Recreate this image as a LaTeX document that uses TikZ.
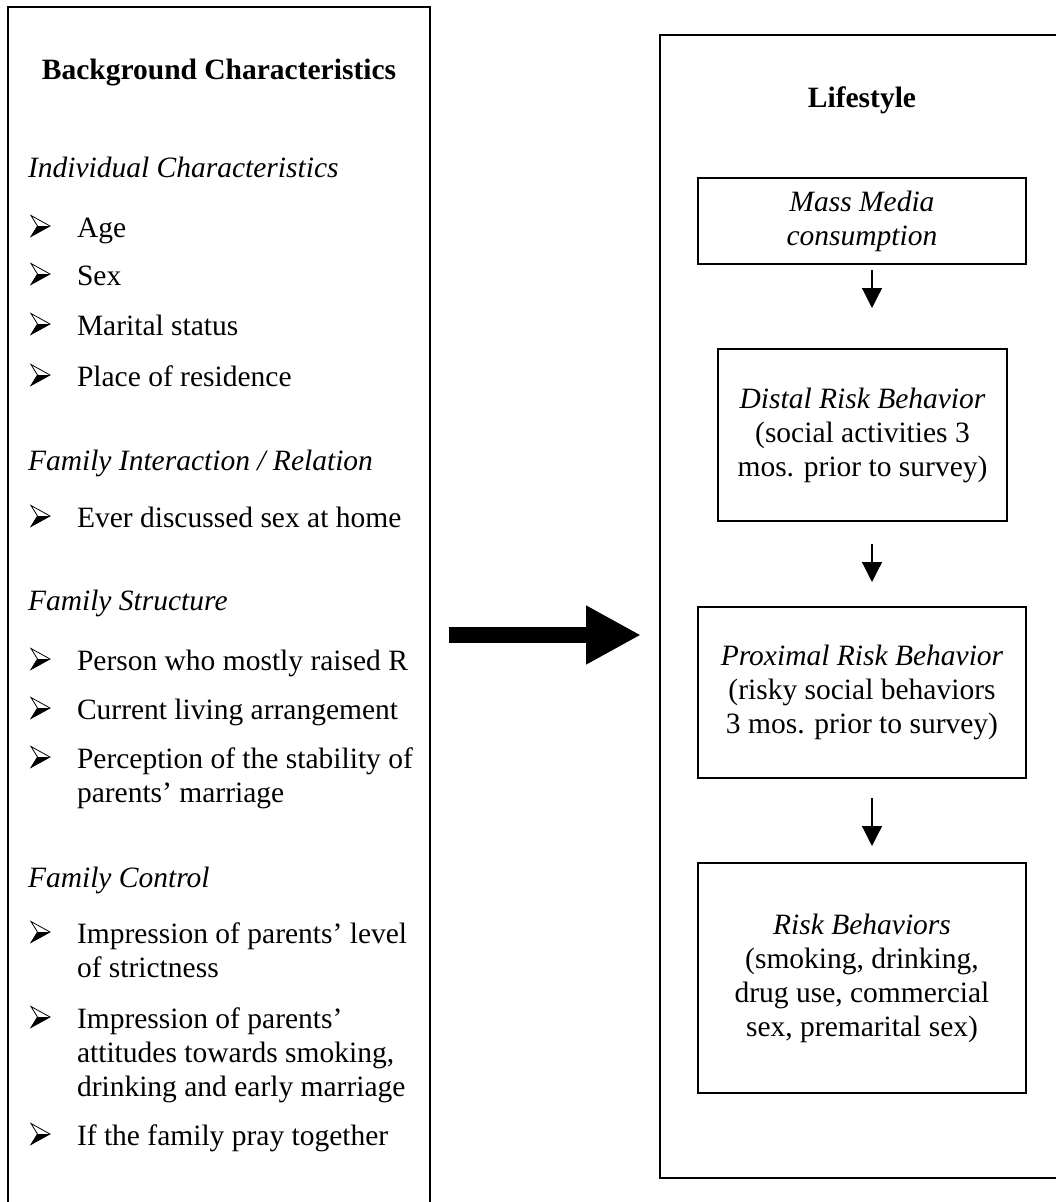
\documentclass[tikz,border=0pt]{standalone}
\usepackage{fontspec}
\setmainfont{Liberation Serif}
\usetikzlibrary{arrows.meta}
\begin{document}
\begin{tikzpicture}[x=1pt,y=1pt,
  every node/.style={inner sep=0pt, outer sep=0pt, font=\fontsize{29.5}{34}\selectfont},
  frame/.style={draw, line width=1.5pt, anchor=north west},
  box/.style={draw, line width=1.5pt, align=center},
  itemtext/.style={anchor=base west, align=left},
  headtext/.style={anchor=base west, font=\fontsize{29.5}{34}\selectfont\itshape},
  titletext/.style={anchor=base, font=\fontsize{29.5}{34}\selectfont\bfseries},
  smallarr/.style={line width=1.2pt, -{Triangle[width=20pt,length=20pt]}},
  bigarr/.style={line width=16pt, -{Triangle[width=55pt,length=55pt]}},
  bul/.pic={
    \fill (9.5,0) -- (-3,0) -- (-9.5,-10.5) -- cycle;
    \draw[line width=0.8pt, line join=miter] (9.5,0) -- (-9.5,10.5) -- (-3,0) -- (-9.5,-10.5) -- cycle;
  }
]
\useasboundingbox (0,0) rectangle (1055,-1202);

% frames
\node[frame, minimum width=422pt, minimum height=1260pt] (lb) at (8,-7) {};
\node[frame, minimum width=420pt, minimum height=1143pt] (rb) at (660,-35) {};

% left column (multi-line nodes are anchored at the baseline of their last line)
\node[titletext] (bgtitle) at (219,-79) {Background Characteristics};

\node[headtext] (ic) at (28,-177) {Individual Characteristics};
\node[itemtext] (age) at (77,-237) {Age};
\node[itemtext] (sex) at (77,-285) {Sex};
\node[itemtext] (mar) at (77,-335) {Marital status};
\node[itemtext] (res) at (77,-386) {Place of residence};

\node[headtext] (fi) at (28,-470) {Family Interaction / Relation};
\node[itemtext] (disc) at (77,-527) {Ever discussed sex at home};

\node[headtext] (fs) at (28,-610) {Family Structure};
\node[itemtext] (raised) at (77,-670) {Person who mostly raised R};
\node[itemtext] (living) at (77,-719) {Current living arrangement};
\node[itemtext] (stab) at (77,-802) {Perception of the stability of\\parents’ marriage};

\node[headtext] (fc) at (28,-887) {Family Control};
\node[itemtext] (strict) at (77,-977) {Impression of parents’ level\\of strictness};
\node[itemtext] (attit) at (77,-1096) {Impression of parents’\\attitudes towards smoking,\\drinking and early marriage};
\node[itemtext] (pray) at (77,-1145) {If the family pray together};

\foreach \yb in {237,285,335,386,527,670,719,768,943,1028,1145}
  \pic at (40.5,-\yb+11) {bul};

% right column
\node[titletext] (lstitle) at (862,-107) {Lifestyle};
\node[box, minimum width=328pt, minimum height=86pt] (mm) at (862,-221)
  {\itshape Mass Media\\\itshape consumption};
\node[box, minimum width=289pt, minimum height=172pt] (distal) at (862.5,-435)
  {{\itshape Distal Risk Behavior}\\(social activities 3\\mos. prior to survey)};
\node[box, minimum width=328pt, minimum height=171pt] (prox) at (862,-692.5)
  {{\itshape Proximal Risk Behavior}\\(risky social behaviors\\3 mos. prior to survey)};
\node[box, minimum width=328pt, minimum height=230pt] (risk) at (862,-978)
  {{\itshape Risk Behaviors}\\(smoking, drinking,\\drug use, commercial\\sex, premarital sex)};

\draw[smallarr, shorten <=6pt, shorten >=41pt] ([xshift=10pt]mm.south) -- ([xshift=9.5pt]distal.north);
\draw[smallarr, shorten <=23pt, shorten >=25pt] ([xshift=9.5pt]distal.south) -- ([xshift=10pt]prox.north);
\draw[smallarr, shorten <=20pt, shorten >=17pt] ([xshift=10pt]prox.south) -- ([xshift=10pt]risk.north);

% big arrow
\coordinate (arrowy) at (0,-635);
\draw[bigarr] ([xshift=19pt]lb.east |- arrowy) -- ([xshift=-19pt]rb.west |- arrowy);
\end{tikzpicture}
\end{document}
